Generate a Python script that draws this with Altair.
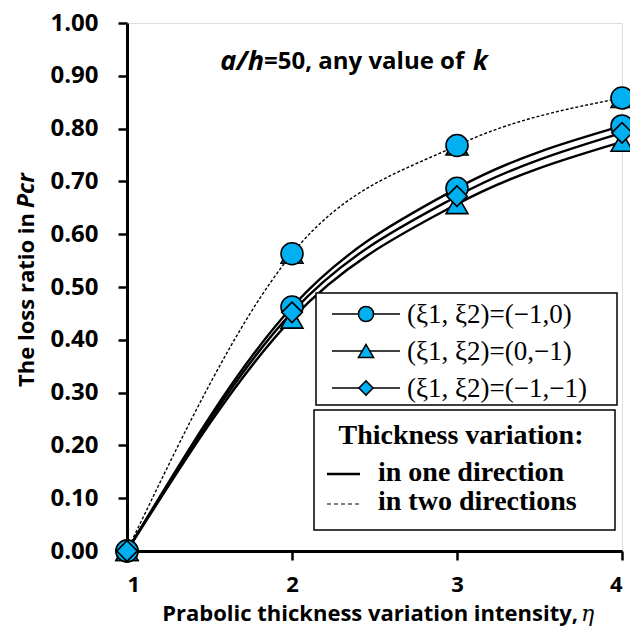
import altair as alt
import pandas as pd

# ---- data ----
eta = [1, 2, 3, 4]
one_circle = [0.0, 0.462, 0.687, 0.805]
one_triangle = [0.0, 0.440, 0.657, 0.775]
one_diamond = [0.0, 0.452, 0.672, 0.792]
two_circle = [0.0, 0.563, 0.768, 0.858]
two_triangle = [0.0, 0.563, 0.768, 0.858]

y_ticks = [0.0, 0.1, 0.2, 0.3, 0.4, 0.5, 0.6, 0.7, 0.8, 0.9, 1.0]
x_ticks = [1, 2, 3, 4]

legend_labels = ["(ξ1, ξ2)=(−1,0)", "(ξ1, ξ2)=(0,−1)", "(ξ1, ξ2)=(−1,−1)"]
legend_shapes = ["circle", "triangle-up", "diamond"]
legend2_title = "Thickness variation:"
legend2_labels = ["in one direction", "in two directions"]

FILL = "#00B0F0"
SANS = "Open Sans"
SERIF = "Liberation Serif"

W, H = 495, 528

def frame(vals, series):
    return pd.DataFrame({"eta": eta, "v": vals, "s": series})

df_one = pd.concat([frame(one_circle, "c"), frame(one_triangle, "t"), frame(one_diamond, "d")])

xs = alt.Scale(domain=[1, 4], nice=False, zero=False)
ys = alt.Scale(domain=[0, 1], nice=False)

X = alt.X("eta:Q", scale=xs, axis=alt.Axis(values=x_ticks, format="d", title=None,
          labelFont=SANS, labelFontSize=22, labelFontWeight="bold", labelColor="black",
          labelPadding=14, tickSize=9, tickWidth=2.5, tickColor="black",
          domainColor="black", domainWidth=3, grid=False))
Y = alt.Y("v:Q", scale=ys, axis=alt.Axis(values=y_ticks, format=".2f", title=None,
          labelFont=SANS, labelFontSize=24, labelFontWeight="bold", labelColor="black",
          labelPadding=20, tickSize=9, tickWidth=2.5, tickColor="black",
          domainColor="black", domainWidth=3, grid=False))

lines_one = alt.Chart(df_one).mark_line(color="black", strokeWidth=2.4, interpolate="monotone").encode(
    x=X, y=Y, detail="s:N")
line_two = alt.Chart(frame(two_circle, "c")).mark_line(
    color="black", strokeWidth=1.4, strokeDash=[3, 2], interpolate="monotone").encode(x=X, y=Y)

def pts(vals, shape, size):
    return alt.Chart(frame(vals, shape)).mark_point(
        shape=shape, filled=True, fill=FILL, stroke="black", strokeWidth=1.6,
        size=size, opacity=1).encode(x=X, y=Y)

points = [
    pts(two_triangle, "triangle-up", 480),
    pts(two_circle, "circle", 484),
    pts(one_triangle, "triangle-up", 480),
    pts(one_circle, "circle", 484),
    pts(one_diamond, "diamond", 420),
]

def txt(s, x, y, size, font=SANS, weight="bold", style="normal", align="left", angle=0, baseline="middle"):
    return alt.Chart(pd.DataFrame({"t": [s]})).mark_text(
        font=font, fontSize=size, fontWeight=weight, fontStyle=style, align=align,
        baseline=baseline, angle=angle, color="black").encode(
        x=alt.value(x), y=alt.value(y), text="t:N")

def box(x1, x2, y1, y2):
    return alt.Chart(pd.DataFrame({"a": [0]})).mark_rect(
        fill="white", stroke="black", strokeWidth=1.5).encode(
        x=alt.value(x1), x2=alt.value(x2), y=alt.value(y1), y2=alt.value(y2))

def seg(x1, x2, y, width=1.5, dash=None):
    kw = dict(color="black", strokeWidth=width)
    if dash:
        kw["strokeDash"] = dash
    return alt.Chart(pd.DataFrame({"a": [0]})).mark_rule(**kw).encode(
        x=alt.value(x1), x2=alt.value(x2), y=alt.value(y))

def sym(shape, x, y, size):
    return alt.Chart(pd.DataFrame({"a": [0]})).mark_point(
        shape=shape, filled=True, fill=FILL, stroke="black", strokeWidth=1.5,
        size=size, opacity=1).encode(x=alt.value(x), y=alt.value(y))

legend = [box(189, 490, 270, 382)]
row_y = [291, 328, 365]
for lab, shp, ry in zip(legend_labels, legend_shapes, row_y):
    legend.append(seg(205, 273, ry, 1.5))
    legend.append(sym(shp, 239, ry, 230 if shp != "diamond" else 200))
    legend.append(txt(lab, 280, ry + 1, 27, font=SERIF, weight="normal"))

legend2 = [
    box(187, 488, 387, 507),
    txt(legend2_title, 334, 413, 28, font=SERIF, align="center"),
    seg(200, 233, 451, 2.6),
    txt(legend2_labels[0], 251, 450, 28, font=SERIF),
    seg(200, 233, 481, 1.2, dash=[4, 3]),
    txt(legend2_labels[1], 251, 479, 28, font=SERIF),
]

annot = [
    txt("a/h", 137, 39, 27, style="italic", align="right"),
    txt("=50, any value of", 137, 39, 24),
    txt("k", 346, 39, 26, style="italic"),
]

ytitle = [
    txt("The loss ratio in", -100, 190, 22, align="right", angle=270),
    txt("Pcr", -100, 185, 23, style="italic", align="left", angle=270),
]
xtitle = [
    txt("Prabolic thickness variation intensity,", 451, 598, 22, align="right", baseline="alphabetic"),
    txt("η", 454, 598, 22, font="DejaVu Serif", weight="normal", style="italic", baseline="alphabetic"),
]

chart = alt.layer(
    line_two, lines_one, *points, *legend, *legend2, *annot, *ytitle, *xtitle
).properties(
    width=W, height=H,
    padding={"left": 119, "top": 15, "right": 8, "bottom": 76},
    autosize=alt.AutoSizeParams(type="none"),
).configure_view(stroke="black", strokeWidth=1.2).configure(background="white")

chart.save("out.html", embed_options={"renderer": "svg", "actions": False})
